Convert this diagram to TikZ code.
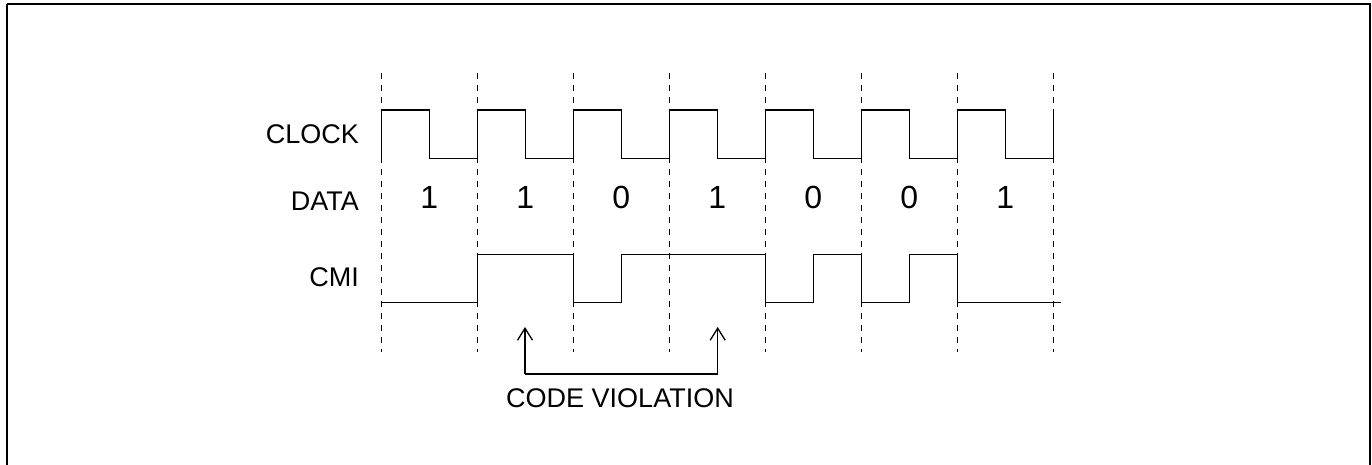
\documentclass[tikz,border=0pt]{standalone}
\usepackage{fontspec}
\setmainfont{Liberation Sans}
\usetikzlibrary{arrows.meta}
\begin{document}
\begin{tikzpicture}[x=1pt,y=-1pt,
  grid/.style={line width=0.9pt,dash pattern=on 6pt off 6pt},
  wave/.style={line width=1.3pt,line join=miter},
  lbl/.style={font=\fontsize{27}{31}\selectfont,anchor=east,inner sep=0pt},
  bit/.style={font=\fontsize{32}{36}\selectfont,inner sep=0pt},
  arr/.style={line width=1.3pt,-{Straight Barb[length=12pt,width=15pt,line width=1.3pt]}}]
\useasboundingbox (0,0) rectangle (1372,465);
\draw[line width=2pt] (7,4) -- (1370,4) -- (1370,470);
\draw[line width=2pt] (7,4) -- (7,470);
% grid
\foreach \i in {0,...,7}
  \draw[grid] (381.3+96*\i,73) -- (381.3+96*\i,352);
% labels
\node[lbl] (clk) at (359,134) {CLOCK};
\node[lbl] (dat) at (359,201) {DATA};
\node[lbl] (cmi) at (359,277) {CMI};
% clock
\def\H{110}\def\L{158.3}
\draw[wave] (381.3,\L) -- (381.3,\H)
  \foreach \i in {0,...,6} { -- (429.3+96*\i,\H) -- (429.3+96*\i,\L) -- (477.3+96*\i,\L) -- (477.3+96*\i,\H) };
% data
\foreach \b [count=\i from 0] in {1,1,0,1,0,0,1}
  \node[bit] (b\i) at (429.3+96*\i,197) {\b};
% cmi
\def\h{254.3}\def\l{302.3}
\draw[wave] (381.3,\l) -- (477.3,\l) -- (477.3,\h) -- (573.3,\h) -- (573.3,\l)
  -- (621.3,\l) -- (621.3,\h) -- (765.3,\h) -- (765.3,\l) -- (813.3,\l) -- (813.3,\h)
  -- (861.3,\h) -- (861.3,\l) -- (909.3,\l) -- (909.3,\h) -- (957.3,\h) -- (957.3,\l)
  -- (1061,\l);
% code violation
\node[font=\fontsize{27}{31}\selectfont,inner sep=0pt] (cv) at (620,398) {CODE VIOLATION};
\coordinate (a1) at (525,327);
\coordinate (a2) at (717.7,327);
\coordinate (c1) at (525,374);
\coordinate (c2) at (717.7,374);
\draw[arr] (c1) -- (a1);
\draw[arr] (c2) -- (a2);
\draw[line width=1.3pt] (c1) -- (c2);
\end{tikzpicture}
\end{document}
